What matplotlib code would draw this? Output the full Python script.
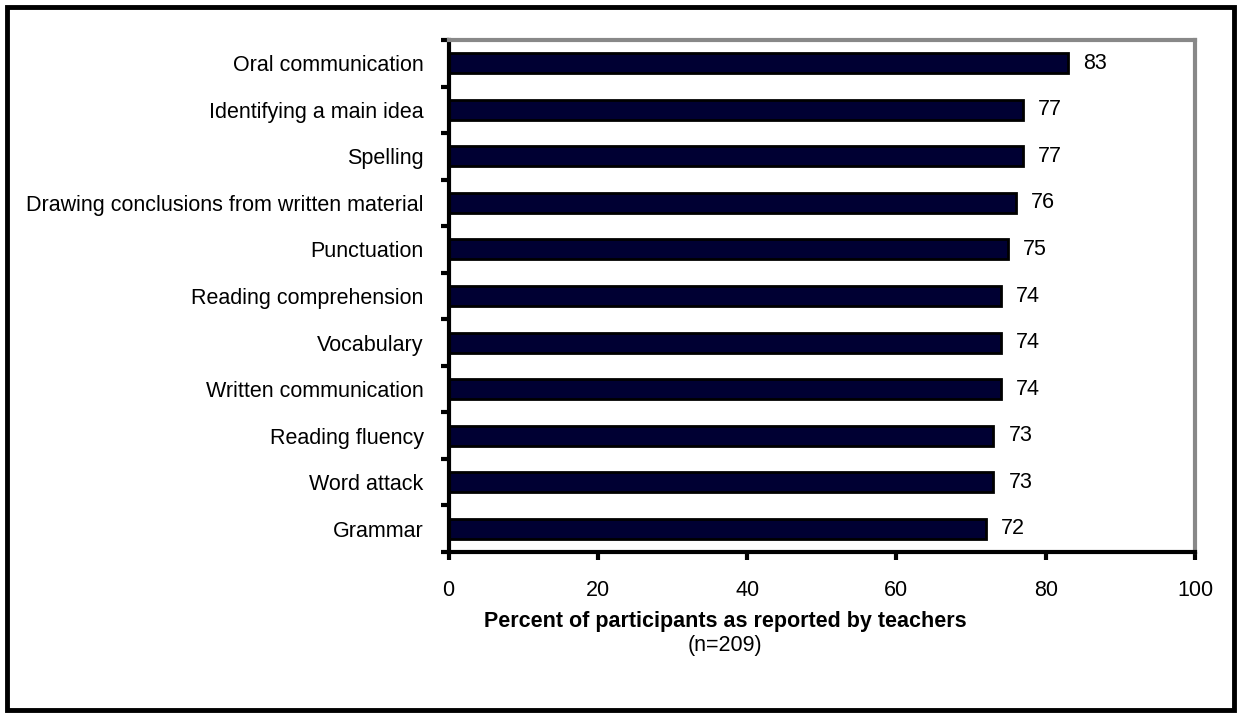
import matplotlib
matplotlib.use("Agg")
import matplotlib.pyplot as plt
from matplotlib.patches import Rectangle
import numpy as np

plt.rcParams["font.family"] = ["Liberation Sans", "DejaVu Sans"]

skills = ["Oral communication", "Identifying a main idea", "Spelling",
          "Drawing conclusions from written material", "Punctuation",
          "Reading comprehension", "Vocabulary", "Written communication",
          "Reading fluency", "Word attack", "Grammar"]
percent = [83, 77, 77, 76, 75, 74, 74, 74, 73, 73, 72]

W, H = 1241, 717
fs = 15.5
fig = plt.figure(figsize=(W / 100, H / 100), dpi=100)
ax = fig.add_axes([448.5 / W, 1 - 552 / H, (1195 - 448.5) / W, (552 - 40) / H])

y = np.arange(len(skills))[::-1]
ax.barh(y, percent, height=0.43, color="#000033", edgecolor="black", linewidth=2)
for yi, v in zip(y, percent):
    ax.text(v + 2, yi, str(v), va="center", ha="left", fontsize=fs)

ax.set_xlim(0, 100)
ax.set_ylim(-0.5, len(skills) - 0.5)
ax.set_xticks(np.arange(0, 101, 20))
ax.tick_params(axis="x", labelsize=fs, length=6, width=3, pad=14)

# category labels centred, ticks on the boundaries
ax.set_yticks(y)
ax.set_yticklabels(skills, fontsize=fs)
ax.tick_params(axis="y", length=0, pad=18)
ax.set_yticks(np.arange(-0.5, len(skills), 1), minor=True)
ax.tick_params(axis="y", which="minor", length=6, width=3)

for s in ["left", "bottom"]:
    ax.spines[s].set_linewidth(3)
    ax.spines[s].set_color("black")
for s in ["top", "right"]:
    ax.spines[s].set_linewidth(3)
    ax.spines[s].set_color("#888888")

fig.text(725 / W, 1 - 622 / H, "Percent of participants as reported by teachers",
         ha="center", va="center", fontsize=fs, fontweight="bold")
fig.text(725 / W, 1 - 645 / H, "(n=209)", ha="center", va="center", fontsize=fs)

fig.patches.append(Rectangle((7 / W, 7 / H), (W - 14) / W, (H - 14) / H,
                             transform=fig.transFigure, fill=False,
                             edgecolor="black", linewidth=3.5))

fig.savefig("out.png", dpi=100)
